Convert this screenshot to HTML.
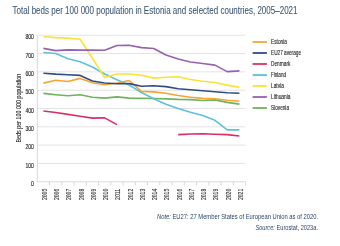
<!DOCTYPE html>
<html><head><meta charset="utf-8"><style>
html,body{margin:0;padding:0;background:#fff;width:340px;height:246px;overflow:hidden}
svg{position:absolute;left:0;top:0;will-change:transform}
text{font-family:"Liberation Sans",sans-serif}
.title{font-size:10.3px;fill:#3d5672;stroke:#3d5672;stroke-width:0.08px}
.t{font-size:6.9px;fill:#222;stroke:#222;stroke-width:0.12px}
.yl{font-size:6.8px;fill:#2a2a2a;stroke:#2a2a2a;stroke-width:0.1px}
.at{font-size:6.4px;fill:#222;stroke:#222;stroke-width:0.08px}
.lg{font-size:6.3px;fill:#1e1e1e;stroke:#1e1e1e;stroke-width:0.12px}
.note{font-size:7.8px;fill:#2a4667}
</style></head><body>
<svg width="340" height="246" viewBox="0 0 340 246">
<text x="12.5" y="14.4" class="title" textLength="285" lengthAdjust="spacingAndGlyphs">Total beds per 100 000 population in Estonia and selected countries, 2005–2021</text>
<line x1="37.3" x2="245.3" y1="163.44" y2="163.44" stroke="#e3e3e3" stroke-width="1"/>
<line x1="37.3" x2="245.3" y1="145.12" y2="145.12" stroke="#e3e3e3" stroke-width="1"/>
<line x1="37.3" x2="245.3" y1="126.81" y2="126.81" stroke="#e3e3e3" stroke-width="1"/>
<line x1="37.3" x2="245.3" y1="108.50" y2="108.50" stroke="#e3e3e3" stroke-width="1"/>
<line x1="37.3" x2="245.3" y1="90.19" y2="90.19" stroke="#e3e3e3" stroke-width="1"/>
<line x1="37.3" x2="245.3" y1="71.88" y2="71.88" stroke="#e3e3e3" stroke-width="1"/>
<line x1="37.3" x2="245.3" y1="53.56" y2="53.56" stroke="#e3e3e3" stroke-width="1"/>
<line x1="37.3" x2="245.3" y1="35.25" y2="35.25" stroke="#e3e3e3" stroke-width="1"/>
<line x1="37.3" x2="37.3" y1="35.25" y2="181.75" stroke="#d9d9d9" stroke-width="1"/>
<line x1="37.3" x2="245.3" y1="181.75" y2="181.75" stroke="#d9d9d9" stroke-width="1"/>
<line x1="49.55" x2="49.55" y1="181.75" y2="185.5" stroke="#d9d9d9" stroke-width="1"/>
<line x1="61.80" x2="61.80" y1="181.75" y2="185.5" stroke="#d9d9d9" stroke-width="1"/>
<line x1="74.05" x2="74.05" y1="181.75" y2="185.5" stroke="#d9d9d9" stroke-width="1"/>
<line x1="86.30" x2="86.30" y1="181.75" y2="185.5" stroke="#d9d9d9" stroke-width="1"/>
<line x1="98.55" x2="98.55" y1="181.75" y2="185.5" stroke="#d9d9d9" stroke-width="1"/>
<line x1="110.80" x2="110.80" y1="181.75" y2="185.5" stroke="#d9d9d9" stroke-width="1"/>
<line x1="123.05" x2="123.05" y1="181.75" y2="185.5" stroke="#d9d9d9" stroke-width="1"/>
<line x1="135.30" x2="135.30" y1="181.75" y2="185.5" stroke="#d9d9d9" stroke-width="1"/>
<line x1="147.55" x2="147.55" y1="181.75" y2="185.5" stroke="#d9d9d9" stroke-width="1"/>
<line x1="159.80" x2="159.80" y1="181.75" y2="185.5" stroke="#d9d9d9" stroke-width="1"/>
<line x1="172.05" x2="172.05" y1="181.75" y2="185.5" stroke="#d9d9d9" stroke-width="1"/>
<line x1="184.30" x2="184.30" y1="181.75" y2="185.5" stroke="#d9d9d9" stroke-width="1"/>
<line x1="196.55" x2="196.55" y1="181.75" y2="185.5" stroke="#d9d9d9" stroke-width="1"/>
<line x1="208.80" x2="208.80" y1="181.75" y2="185.5" stroke="#d9d9d9" stroke-width="1"/>
<line x1="221.05" x2="221.05" y1="181.75" y2="185.5" stroke="#d9d9d9" stroke-width="1"/>
<line x1="233.30" x2="233.30" y1="181.75" y2="185.5" stroke="#d9d9d9" stroke-width="1"/>
<line x1="245.55" x2="245.55" y1="181.75" y2="185.5" stroke="#d9d9d9" stroke-width="1"/>
<text x="31.10" y="185.95" class="t" textLength="2.9" lengthAdjust="spacingAndGlyphs">0</text>
<text x="25.40" y="167.64" class="t" textLength="8.6" lengthAdjust="spacingAndGlyphs">100</text>
<text x="25.40" y="149.33" class="t" textLength="8.6" lengthAdjust="spacingAndGlyphs">200</text>
<text x="25.40" y="131.01" class="t" textLength="8.6" lengthAdjust="spacingAndGlyphs">300</text>
<text x="25.40" y="112.70" class="t" textLength="8.6" lengthAdjust="spacingAndGlyphs">400</text>
<text x="25.40" y="94.39" class="t" textLength="8.6" lengthAdjust="spacingAndGlyphs">500</text>
<text x="25.40" y="76.08" class="t" textLength="8.6" lengthAdjust="spacingAndGlyphs">600</text>
<text x="25.40" y="57.76" class="t" textLength="8.6" lengthAdjust="spacingAndGlyphs">700</text>
<text x="25.40" y="39.45" class="t" textLength="8.6" lengthAdjust="spacingAndGlyphs">800</text>
<text transform="translate(46.92,200) rotate(-90)" class="yl" textLength="11.2" lengthAdjust="spacingAndGlyphs">2005</text>
<text transform="translate(59.17,200) rotate(-90)" class="yl" textLength="11.2" lengthAdjust="spacingAndGlyphs">2006</text>
<text transform="translate(71.42,200) rotate(-90)" class="yl" textLength="11.2" lengthAdjust="spacingAndGlyphs">2007</text>
<text transform="translate(83.67,200) rotate(-90)" class="yl" textLength="11.2" lengthAdjust="spacingAndGlyphs">2008</text>
<text transform="translate(95.92,200) rotate(-90)" class="yl" textLength="11.2" lengthAdjust="spacingAndGlyphs">2009</text>
<text transform="translate(108.17,200) rotate(-90)" class="yl" textLength="11.2" lengthAdjust="spacingAndGlyphs">2010</text>
<text transform="translate(120.42,200) rotate(-90)" class="yl" textLength="11.2" lengthAdjust="spacingAndGlyphs">2011</text>
<text transform="translate(132.68,200) rotate(-90)" class="yl" textLength="11.2" lengthAdjust="spacingAndGlyphs">2012</text>
<text transform="translate(144.93,200) rotate(-90)" class="yl" textLength="11.2" lengthAdjust="spacingAndGlyphs">2013</text>
<text transform="translate(157.18,200) rotate(-90)" class="yl" textLength="11.2" lengthAdjust="spacingAndGlyphs">2014</text>
<text transform="translate(169.43,200) rotate(-90)" class="yl" textLength="11.2" lengthAdjust="spacingAndGlyphs">2015</text>
<text transform="translate(181.68,200) rotate(-90)" class="yl" textLength="11.2" lengthAdjust="spacingAndGlyphs">2016</text>
<text transform="translate(193.93,200) rotate(-90)" class="yl" textLength="11.2" lengthAdjust="spacingAndGlyphs">2017</text>
<text transform="translate(206.18,200) rotate(-90)" class="yl" textLength="11.2" lengthAdjust="spacingAndGlyphs">2018</text>
<text transform="translate(218.43,200) rotate(-90)" class="yl" textLength="11.2" lengthAdjust="spacingAndGlyphs">2019</text>
<text transform="translate(230.68,200) rotate(-90)" class="yl" textLength="11.2" lengthAdjust="spacingAndGlyphs">2020</text>
<text transform="translate(242.93,200) rotate(-90)" class="yl" textLength="11.2" lengthAdjust="spacingAndGlyphs">2021</text>
<text transform="translate(20.6,142.5) rotate(-90)" class="at" textLength="68.7" lengthAdjust="spacingAndGlyphs">Beds per 100 000 population</text>
<polyline points="43.42,93.40 55.67,94.70 67.92,95.80 80.17,94.80 92.42,97.20 104.67,98.10 116.92,96.90 129.18,98.10 141.43,98.40 153.68,98.50 165.93,98.90 178.18,99.40 190.43,99.60 202.68,100.50 214.93,99.90 227.18,102.40 239.43,104.10" fill="none" stroke="#70b25f" stroke-width="1.6" stroke-linejoin="round" stroke-linecap="butt"/>
<polyline points="43.42,111.00 55.67,112.50 67.92,114.40 80.17,116.20 92.42,118.10 104.67,117.90 116.92,124.60" fill="none" stroke="#db3062" stroke-width="1.6" stroke-linejoin="round" stroke-linecap="butt"/>
<polyline points="178.18,134.60 190.43,134.00 202.68,133.80 214.93,134.30 227.18,134.60 239.43,136.00" fill="none" stroke="#db3062" stroke-width="1.6" stroke-linejoin="round" stroke-linecap="butt"/>
<polyline points="43.42,52.50 55.67,53.50 67.92,58.70 80.17,61.80 92.42,67.00 104.67,74.00 116.92,79.80 129.18,85.00 141.43,92.50 153.68,98.80 165.93,104.30 178.18,108.40 190.43,112.20 202.68,115.50 214.93,120.30 227.18,129.90 239.43,129.90" fill="none" stroke="#5cc2dc" stroke-width="1.6" stroke-linejoin="round" stroke-linecap="butt"/>
<polyline points="43.42,36.80 55.67,37.60 67.92,38.10 80.17,39.30 92.42,58.30 104.67,77.50 116.92,74.00 129.18,74.00 141.43,75.30 153.68,78.10 165.93,77.20 178.18,76.70 190.43,79.50 202.68,81.20 214.93,82.50 227.18,85.10 239.43,87.40" fill="none" stroke="#fae236" stroke-width="1.6" stroke-linejoin="round" stroke-linecap="butt"/>
<polyline points="43.42,48.40 55.67,50.60 67.92,49.90 80.17,50.10 92.42,50.10 104.67,50.30 116.92,45.50 129.18,45.30 141.43,47.60 153.68,48.50 165.93,55.00 178.18,59.00 190.43,62.00 202.68,63.50 214.93,65.10 227.18,71.60 239.43,70.90" fill="none" stroke="#9860b3" stroke-width="1.6" stroke-linejoin="round" stroke-linecap="butt"/>
<polyline points="43.42,83.10 55.67,80.30 67.92,81.50 80.17,78.40 92.42,82.80 104.67,84.80 116.92,83.00 129.18,80.50 141.43,91.40 153.68,91.90 165.93,93.20 178.18,95.50 190.43,97.20 202.68,98.40 214.93,98.70 227.18,100.30 239.43,101.30" fill="none" stroke="#f6a434" stroke-width="1.6" stroke-linejoin="round" stroke-linecap="butt"/>
<polyline points="43.42,73.20 55.67,74.10 67.92,74.70 80.17,75.40 92.42,81.00 104.67,83.00 116.92,83.80 129.18,83.60 141.43,86.30 153.68,85.80 165.93,86.60 178.18,88.70 190.43,89.80 202.68,90.80 214.93,91.80 227.18,92.80 239.43,93.20" fill="none" stroke="#2f4d88" stroke-width="1.6" stroke-linejoin="round" stroke-linecap="butt"/>
<line x1="252.6" x2="266.9" y1="42" y2="42" stroke="#f6a434" stroke-width="1.8"/>
<text x="271" y="44.20" class="lg" textLength="16" lengthAdjust="spacingAndGlyphs">Estonia</text>
<line x1="252.6" x2="266.9" y1="53" y2="53" stroke="#2f4d88" stroke-width="1.8"/>
<text x="271" y="55.20" class="lg" textLength="30" lengthAdjust="spacingAndGlyphs">EU27 average</text>
<line x1="252.6" x2="266.9" y1="64" y2="64" stroke="#db3062" stroke-width="1.8"/>
<text x="271" y="66.20" class="lg" textLength="19.4" lengthAdjust="spacingAndGlyphs">Denmark</text>
<line x1="252.6" x2="266.9" y1="75" y2="75" stroke="#5cc2dc" stroke-width="1.8"/>
<text x="271" y="77.20" class="lg" textLength="15" lengthAdjust="spacingAndGlyphs">Finland</text>
<line x1="252.6" x2="266.9" y1="86" y2="86" stroke="#fae236" stroke-width="1.8"/>
<text x="271" y="88.20" class="lg" textLength="12.8" lengthAdjust="spacingAndGlyphs">Latvia</text>
<line x1="252.6" x2="266.9" y1="97" y2="97" stroke="#9860b3" stroke-width="1.8"/>
<text x="271" y="99.20" class="lg" textLength="19.4" lengthAdjust="spacingAndGlyphs">Lithuania</text>
<line x1="252.6" x2="266.9" y1="108" y2="108" stroke="#70b25f" stroke-width="1.8"/>
<text x="271" y="110.20" class="lg" textLength="18" lengthAdjust="spacingAndGlyphs">Slovenia</text>
<text x="157" y="218.5" class="note" textLength="161" lengthAdjust="spacingAndGlyphs"><tspan font-style="italic">Note:</tspan> EU27: 27 Member States of European Union as of 2020.</text>
<text x="255.4" y="229.5" class="note" textLength="62.6" lengthAdjust="spacingAndGlyphs"><tspan font-style="italic">Source:</tspan> Eurostat, 2023a.</text>
</svg>
</body></html>
